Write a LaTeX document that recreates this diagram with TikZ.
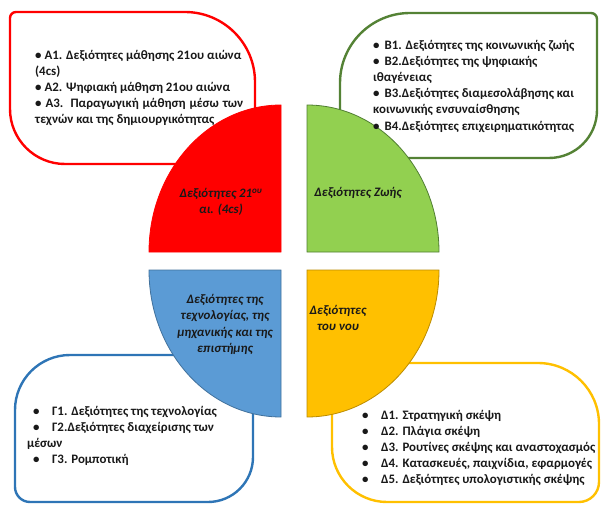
\documentclass[tikz,border=0pt]{standalone}
\usepackage{fontspec}
\setmainfont{Carlito}[BoldFont={Carlito Bold}, ItalicFont={Carlito Italic}, BoldItalicFont={Carlito Bold Italic}]
\usepackage{tikz}
\definecolor{myred}{RGB}{255,0,0}
\definecolor{mygreen}{RGB}{146,208,80}
\definecolor{mygreenline}{RGB}{84,130,53}
\definecolor{mygreenedge}{RGB}{80,126,50}
\definecolor{myblue}{RGB}{91,155,213}
\definecolor{mybluebox}{RGB}{46,117,182}
\definecolor{myblueedge}{RGB}{65,113,156}
\definecolor{myyellow}{RGB}{255,192,0}
\definecolor{myyellowedge}{RGB}{188,140,0}
\definecolor{mytext}{RGB}{25,25,25}

\begin{document}
\begin{tikzpicture}[x=1pt,y=1pt,
    boxline/.style={line width=2.4pt, fill=white},
    quarter/.style={line width=0.8pt},
    boxtext/.style={anchor=west, align=left, inner sep=0pt, text=mytext,
      font=\fontsize{12.9}{16.2}\selectfont\bfseries},
    quartertext/.style={align=center, inner sep=0pt, text=mytext,
      font=\fontsize{12.9}{16.3}\selectfont\bfseries\itshape}]

    \useasboundingbox (0,0) rectangle (604,504);

    % Define the radii of the four quarters
    \pgfmathsetmacro{\Rx}{132}
    \pgfmathsetmacro{\Ry}{147}

    % Draw the four boxes
    \draw[boxline, draw=myred] (10,395) -- (10,486) arc[start angle=180, end angle=90, radius=6]
      -- (185,492) arc[start angle=90, end angle=0, radius=70] -- (255,340) -- (65,340)
      arc[start angle=270, end angle=180, radius=55] -- cycle;
    \draw[boxline, draw=mygreenline] (340,346) -- (340,421) arc[start angle=180, end angle=90, radius=70]
      -- (591,491) arc[start angle=90, end angle=0, radius=6] -- (597,394)
      arc[start angle=0, end angle=-90, radius=48] -- cycle;
    \draw[boxline, draw=mybluebox] (15,17) -- (15,94) arc[start angle=180, end angle=90, radius=55]
      -- (253,149) -- (253,47) arc[start angle=0, end angle=-90, radius=45] -- (30,2)
      arc[start angle=270, end angle=180, radius=15] -- cycle;
    \draw[boxline, draw=myyellow] (332,141) -- (538,141) arc[start angle=90, end angle=0, radius=61]
      -- (599,22) arc[start angle=0, end angle=-90, radius=20] -- (387,2)
      arc[start angle=270, end angle=180, radius=55] -- cycle;

    % Draw the four quarters
    \filldraw[quarter, fill=myred, draw=myred] (281,252) -- (281-\Rx,252)
      arc[start angle=180, end angle=90, x radius=\Rx, y radius=\Ry] -- cycle;
    \filldraw[quarter, fill=mygreen, draw=mygreenedge] (307,252) -- (307,252+\Ry)
      arc[start angle=90, end angle=0, x radius=\Rx, y radius=\Ry] -- cycle;
    \filldraw[quarter, fill=myblue, draw=myblueedge] (281,234) -- (281,234-\Ry)
      arc[start angle=270, end angle=180, x radius=\Rx, y radius=\Ry] -- cycle;
    \filldraw[quarter, fill=myyellow, draw=myyellowedge] (307,234) -- (307+\Rx,234)
      arc[start angle=0, end angle=-90, x radius=\Rx, y radius=\Ry] -- cycle;

    % Labels of the quarters
    \node[quartertext] (redlabel) at (221,302) {Δεξιότητες 21\textsuperscript{ου}\\ αι. (4cs)};
    \node[quartertext] (greenlabel) at (358,311) {Δεξιότητες Ζωής};
    \node[quartertext] (bluelabel) at (225,179.5) {Δεξιότητες της\\ τεχνολογίας, της\\ μηχανικής και της\\ επιστήμης};
    \node[quartertext] (yellowlabel) at (338,186) {Δεξιότητες\\ του νου};

    % Texts of the boxes
    \node[boxtext] (redtext) at (35,416) {• Α1. Δεξιότητες μάθησης 21ου αιώνα\\ (4cs)\\
      • Α2. Ψηφιακή μάθηση 21ου αιώνα\\
      \makebox[208pt][s]{• Α3. Παραγωγική μάθηση μέσω των}\\ τεχνών και της δημιουργικότητας};
    \node[boxtext] (greentext) at (373,418) {•\hspace{5pt}Β1. Δεξιότητες της κοινωνικής ζωής\\
      •\hspace{5pt}Β2.Δεξιότητες της ψηφιακής\\ ιθαγένειας\\
      •\hspace{5pt}Β3.Δεξιότητες διαμεσολάβησης και\\ κοινωνικής ενσυναίσθησης\\
      •\hspace{5pt}Β4.Δεξιότητες επιχειρηματικότητας};
    \node[boxtext] (bluetext) at (27,68) {\makebox[25pt][l]{\hspace{6pt}•}Γ1. Δεξιότητες της τεχνολογίας\\
      \makebox[25pt][l]{\hspace{6pt}•}Γ2.Δεξιότητες διαχείρισης των\\ μέσων\\
      \makebox[25pt][l]{\hspace{6pt}•}Γ3. Ρομποτική};
    \node[boxtext] (yellowtext) at (360,56) {\makebox[21pt][l]{\hspace{2pt}•}Δ1. Στρατηγική σκέψη\\
      \makebox[21pt][l]{\hspace{2pt}•}Δ2. Πλάγια σκέψη\\
      \makebox[21pt][l]{\hspace{2pt}•}Δ3. Ρουτίνες σκέψης και αναστοχασμός\\
      \makebox[21pt][l]{\hspace{2pt}•}Δ4. Κατασκευές, παιχνίδια, εφαρμογές\\
      \makebox[21pt][l]{\hspace{2pt}•}Δ5. Δεξιότητες υπολογιστικής σκέψης};
\end{tikzpicture}
\end{document}
